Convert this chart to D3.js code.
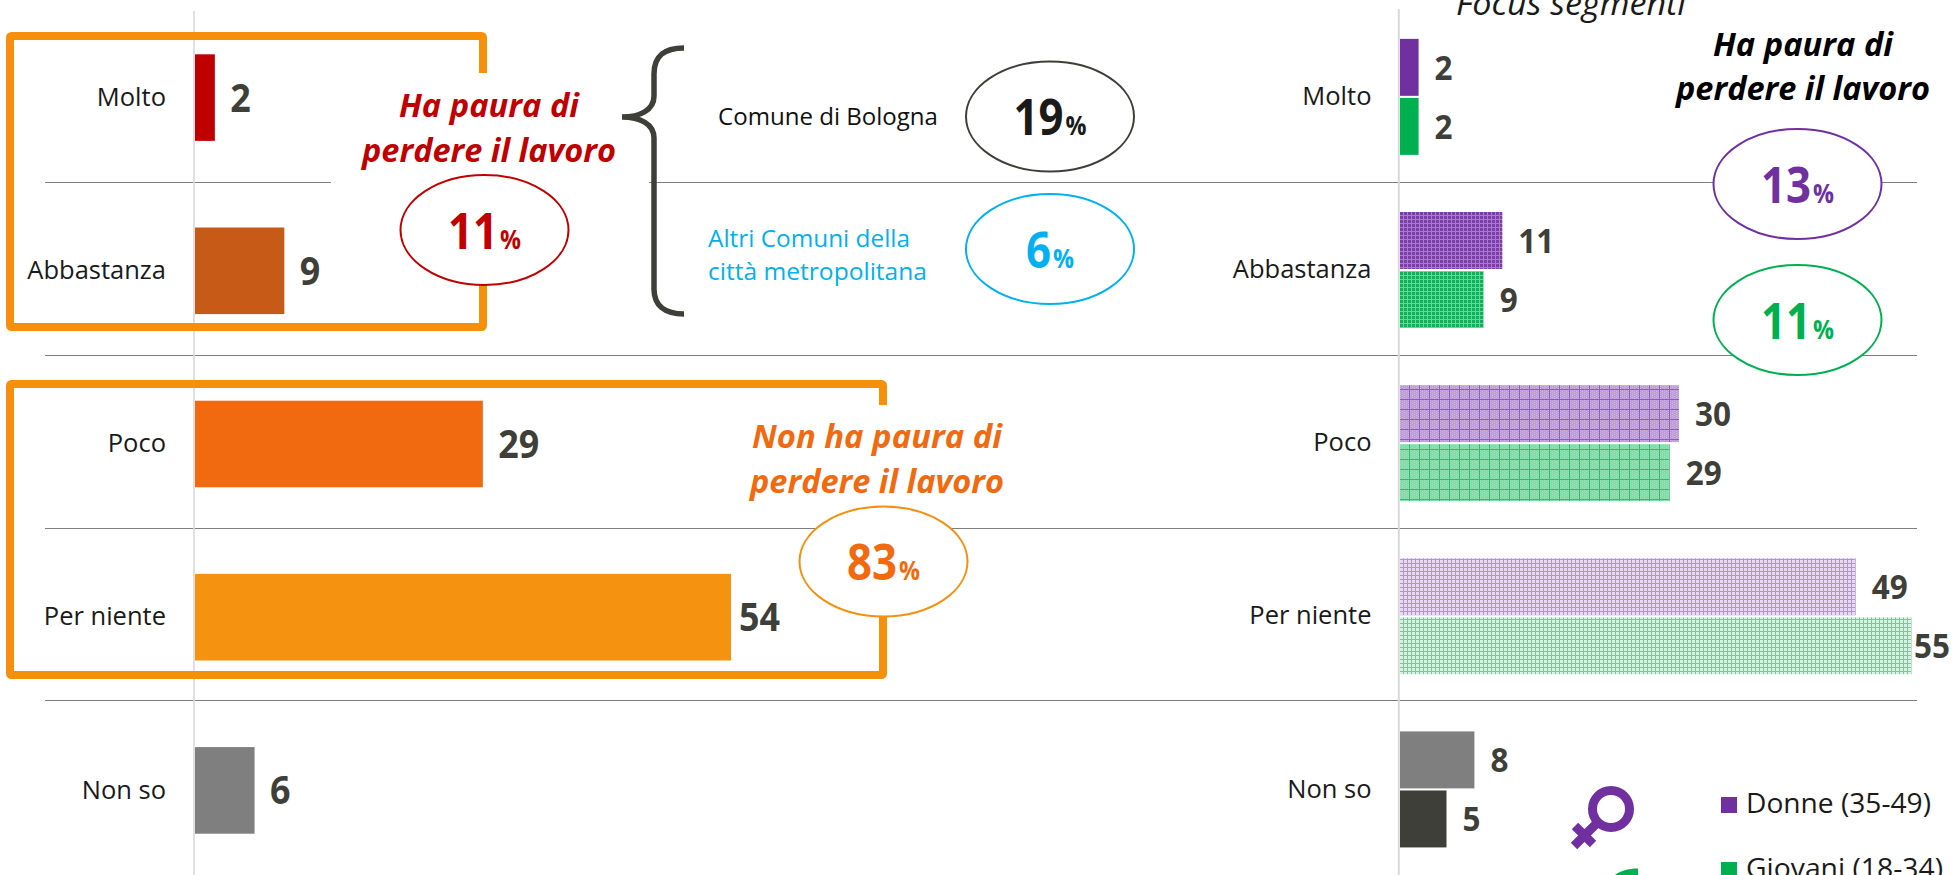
<!DOCTYPE html>
<html><head><meta charset="utf-8">
<script src="https://cdn.jsdelivr.net/npm/d3@7/dist/d3.min.js"></script>
<style>html,body{margin:0;padding:0;background:#fff;overflow:hidden}svg{display:block}text{font-family:"Open Sans",sans-serif}</style>
</head><body><div id="c"></div>
<script>
const categories = ["Molto","Abbastanza","Poco","Per niente","Non so"];
const totalValues = [2,9,29,54,6];
const totalColors = ["#C00000","#C85A17","#F26A0F","#F5920F","#7F7F7F"];
const donneValues = [2,11,30,49,8];
const giovaniValues = [2,9,29,55,5];
const donneFills = ["#7030A0","url(#pd)","url(#pm)","url(#pl)","#7F7F7F"];
const giovaniFills = ["#00B050","url(#gd)","url(#gm)","url(#gl)","#3F3F3A"];
const segments = ["Donne (35-49)","Giovani (18-34)"];
const segmentColors = ["#7030A0","#00B050"];
const fearTitle = ["Ha paura di","perdere il lavoro"];
const noFearTitle = ["Non ha paura di","perdere il lavoro"];

const W=1952,H=875;
const svg=d3.select("#c").append("svg").attr("width",W).attr("height",H).attr("viewBox",`0 0 ${W} ${H}`);
const defs=svg.append("defs");

function pattern(id,size,bg,dot,line,lw){
  const p=defs.append("pattern").attr("id",id).attr("patternUnits","userSpaceOnUse").attr("width",size).attr("height",size)
    .attr("x",1400);
  p.append("rect").attr("width",size).attr("height",size).attr("fill",bg);
  if(dot) for(let i=0;i<size;i+=2) for(let j=(i/2)%2*1;j<size;j+=2)
    p.append("rect").attr("x",i).attr("y",j).attr("width",1).attr("height",1).attr("fill",dot);
  p.append("rect").attr("x",size-lw).attr("width",lw).attr("height",size).attr("fill",line);
  p.append("rect").attr("y",size-lw).attr("width",size).attr("height",lw).attr("fill",line);
}
pattern("pd",4,"#7A3DA9",null,"#A77CC9",1);
pattern("gd",4,"#0FB259",null,"#6FD29B",1);
pattern("pm",10,"#BD9DD8","#CDB5E2","#8E5CB9",1);
pattern("gm",10,"#84DAA9","#9BE2BA","#2DBB6C",1);
pattern("pl",4,"#E6DAF1",null,"#B392CF",1);
pattern("gl",4,"#D8F1E3",null,"#6BCF97",1);

const xL=d3.scaleLinear().domain([0,54]).range([195,731]);
const xR=d3.scaleLinear().domain([0,55]).range([1400,1911.5]);
const yL=d3.scaleBand().domain(categories).range([11,877]).paddingInner(0.5).paddingOuter(0.25);
const yR=d3.scaleBand().domain(categories).range([10.3,876]).paddingInner(0.33).paddingOuter(0.165);
const ySub=d3.scaleBand().domain([0,1]).range([0,yR.bandwidth()]).paddingInner(0.035);

const dividerYs=[182.5,355.5,528.5,700.5];
svg.selectAll(".div").data(dividerYs).join("line").attr("x1",45).attr("x2",1917)
  .attr("y1",d=>d).attr("y2",d=>d).attr("stroke","#7F7F7F").attr("stroke-width",1);

svg.append("line").attr("x1",194).attr("x2",194).attr("y1",11).attr("y2",H).attr("stroke","#D9D9D9").attr("stroke-width",1.6);
svg.append("line").attr("x1",1398.8).attr("x2",1398.8).attr("y1",9).attr("y2",H).attr("stroke","#D9D9D9").attr("stroke-width",2);

[[10,36,473,291],[10,384,873,291]].forEach(r=>svg.append("rect").attr("x",r[0]).attr("y",r[1]).attr("width",r[2]).attr("height",r[3])
  .attr("rx",1.5).attr("fill","none").attr("stroke","#F68F0B").attr("stroke-width",8));
svg.append("rect").attr("x",331).attr("y",73).attr("width",318).attr("height",117).attr("fill","#fff");
svg.append("rect").attr("x",745).attr("y",405).attr("width",280).attr("height",105).attr("fill","#fff");

// axes for category labels
const axL=svg.append("g").attr("transform","translate(195,0)").call(d3.axisLeft(yL).tickSize(0).tickPadding(29));
const axR=svg.append("g").attr("transform","translate(1400,0)").call(d3.axisLeft(yR).tickSize(0).tickPadding(28.5));
[axL,axR].forEach(a=>{a.select(".domain").remove();
  a.selectAll("text").style("font-family",'"Open Sans",sans-serif').style("font-size","25.5px").attr("fill","#1a1a1a");});

function fit(t,x,y,size,len,col,o={}){
  const e=svg.append("text").attr("x",x).attr("y",y).attr("font-size",size).attr("fill",col).text(t)
    .attr("font-weight",o.weight||400).attr("font-style",o.style||"normal").attr("text-anchor",o.anchor||"start");
  if(len) e.attr("textLength",len).attr("lengthAdjust","spacingAndGlyphs");
  return e;
}
const LBL="#3F3F3A";
// left bars
svg.append("g").selectAll("rect").data(categories).join("rect")
  .attr("x",xL(0)).attr("y",c=>yL(c)).attr("height",yL.bandwidth())
  .attr("width",(c,i)=>xL(totalValues[i])-xL(0)).attr("fill",(c,i)=>totalColors[i]);
categories.forEach((c,i)=>{
  const v=totalValues[i];
  fit(String(v),Math.min(xL(v)+15.5,739),yL(c)+yL.bandwidth()/2+14,38.5,String(v).length*20.5,LBL,{weight:700});
});
// right bars
[[donneValues,donneFills],[giovaniValues,giovaniFills]].forEach(([vals,fills],s)=>{
  svg.append("g").selectAll("rect").data(categories).join("rect")
    .attr("x",xR(0)).attr("y",c=>yR(c)+ySub(s)).attr("height",ySub.bandwidth())
    .attr("width",(c,i)=>xR(vals[i])-xR(0)).attr("fill",(c,i)=>fills[i]);
  categories.forEach((c,i)=>{
    const v=vals[i];
    fit(String(v),Math.min(xR(v)+16,1914),yR(c)+ySub(s)+ySub.bandwidth()/2+12.5,33.5,String(v).length*18,LBL,{weight:700});
  });
});

function bubble(cx,cy,num,col,strokeCol){
  svg.append("ellipse").attr("cx",cx).attr("cy",cy).attr("rx",84).attr("ry",55).attr("fill","#fff").attr("stroke",strokeCol||col).attr("stroke-width",2);
  const n=num.length*25, tot=n+2+21, sx=cx-tot/2;
  fit(num,sx,cy+18.5,51,n,col,{weight:700});
  fit("%",sx+n+2,cy+18.5,26,21,col,{weight:700});
}
bubble(484.5,230,"11","#C00000");
bubble(883.5,561.5,"83","#F26A0F","#F68F0B");
bubble(1050,116.5,"19","#1A1A18","#3F3F3A");
bubble(1050,249,"6","#00B0F0");
bubble(1797.5,184,"13","#7030A0");
bubble(1797.5,320,"11","#00B050");

const BI={weight:700,style:"italic",anchor:"middle"};
fit(fearTitle[0],489,117,33,180,"#C00000",BI);
fit(fearTitle[1],489,162,33,254,"#C00000",BI);
fit(noFearTitle[0],877,448,33,250,"#F26A0F",BI);
fit(noFearTitle[1],877,493,33,254,"#F26A0F",BI);
fit(fearTitle[0],1803,56,33,180,"#000",BI);
fit(fearTitle[1],1803,100,33,254,"#000",BI);
fit("Focus segmenti",1456,15,33,230,"#1a1a1a",{style:"italic"});

fit("Comune di Bologna",718,125,24.5,220,"#111");
fit("Altri Comuni della",708,247,24.5,202,"#00B0F0");
fit("città metropolitana",708,280,24.5,219,"#00B0F0");

// brace
svg.append("path").attr("fill","none").attr("stroke","#3F3F3A").attr("stroke-width",5.5)
  .attr("d","M684,48 C664,48 654,56 654,74 L654,96 C654,110 640,117 622,117 C640,117 654,124 654,138 L654,289 C654,305 664,314 684,314");

// female symbol
const fem=svg.append("g").attr("stroke","#7030A0").attr("stroke-width",9).attr("fill","none");
fem.append("circle").attr("cx",1611).attr("cy",809).attr("r",18.5);
fem.append("line").attr("x1",1598).attr("y1",822).attr("x2",1574).attr("y2",846);
fem.append("line").attr("x1",1575).attr("y1",826).attr("x2",1593).attr("y2",844);
// male symbol (cut off)
svg.append("path").attr("fill","#00B050").attr("d","M1615,875 C1620,871 1628,868.5 1638,868.5 L1638,875 Z");

// legend
segments.forEach((s,i)=>{
  const y=[813,878][i];
  svg.append("rect").attr("x",1721).attr("y",y-16).attr("width",16).attr("height",16).attr("fill",segmentColors[i]);
  fit(s,1746,y,27,i?197:185,"#1a1a1a");
});
</script></body></html>
